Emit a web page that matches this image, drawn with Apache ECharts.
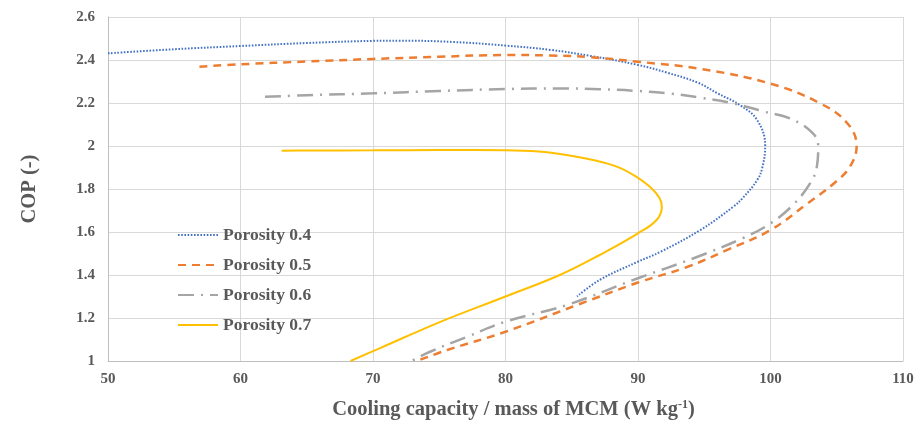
<!DOCTYPE html>
<html>
	<head>
		<meta charset="UTF-8">
		<title>COP vs cooling capacity</title>
		<script src="https://cdn.jsdelivr.net/npm/echarts@6/dist/echarts.min.js"></script>
		<style type="text/css">
			html,body{ margin:0; padding:0; background:#fff; }
		</style>
	</head>
	<body>
		<div id="chart1" style="width:917px; height:423px;"></div>
	</body>
</html>
<script type="text/javascript">
	// series names (legend)
	var seriesNames = ['Porosity 0.4', 'Porosity 0.5', 'Porosity 0.6', 'Porosity 0.7'];

	// [cooling capacity, COP], in curve order
	var porosity04 = [[50,2.431],[55,2.45],[60,2.465],[65,2.479],[70,2.489],[72,2.49],[76,2.484],[80,2.467],[83.4,2.447],[86.4,2.419],[90,2.377],[92.2,2.341],[94.5,2.295],[96,2.245],[97.7,2.19],[99,2.12],[99.6,2.0],[99.4,1.904],[99,1.842],[97.9,1.758],[97.2,1.718],[94.7,1.609],[91.7,1.508],[90,1.462],[87.1,1.377],[85.4,1.30]];
	var porosity05 = [[56.9,2.369],[60,2.38],[65,2.393],[70,2.405],[75,2.415],[80,2.423],[83.4,2.421],[86.4,2.413],[90,2.392],[94.8,2.358],[100,2.29],[103.7,2.2],[105.8,2.106],[106.5,2.0],[106,1.904],[104.8,1.827],[102.8,1.733],[100,1.609],[96.7,1.516],[93.7,1.437],[90,1.365],[85.6,1.265],[80,1.136],[75.6,1.051],[73.3,1.0]];
	var porosity06 = [[61.85,2.229],[65,2.236],[70,2.245],[75,2.256],[80,2.265],[84,2.268],[87.1,2.264],[90,2.256],[92.5,2.243],[94.7,2.225],[97.2,2.198],[99.5,2.16],[101.5,2.128],[103.2,2.059],[103.6,2.0],[103.5,1.904],[103,1.827],[101.7,1.726],[100,1.64],[97.9,1.571],[94.2,1.478],[90,1.385],[84.6,1.26],[80,1.183],[77,1.11],[74.3,1.043],[73,1.003]];
	var porosity07 = [[63.1,1.978],[65,1.979],[70,1.98],[75,1.981],[80,1.98],[82.5,1.974],[84.6,1.958],[86.6,1.935],[88.4,1.904],[89.8,1.86],[90.9,1.81],[91.6,1.76],[91.8,1.718],[91.4,1.656],[90,1.594],[87.1,1.493],[84.1,1.4],[80,1.3],[75,1.18],[70.5,1.059],[68.3,1.0]];

	var chart1 = echarts.init(document.getElementById('chart1'));

	var labelFont = {
		fontFamily: '"Liberation Serif", "Times New Roman", serif',
		fontWeight: 'bold',
		color: '#595959'
	};

	var option = {
		backgroundColor: '#fff',
		animation: false,
		grid: {
			left: 108,
			right: 14,
			top: 17,
			bottom: 62,
			containLabel: false,
			outerBoundsMode: 'none'
		},
		legend: {
			orient: 'vertical',
			left: 172,
			top: 221,
			itemWidth: 40,
			itemHeight: 14,
			itemGap: 12,
			data: seriesNames,
			itemStyle: { opacity: 0 },
			textStyle: Object.assign({ fontSize: 17.5 }, labelFont)
		},
		xAxis: {
			type: 'value',
			min: 50,
			max: 110,
			interval: 10,
			name: 'Cooling capacity / mass of MCM (W kg{sup|-1})',
			nameLocation: 'middle',
			nameGap: 38,
			nameTextStyle: Object.assign({
				fontSize: 20.5,
				padding: [0, 0, 0, 16],
				rich: {
					sup: Object.assign({ fontSize: 12, verticalAlign: 'top', padding: [0, 0, 8, 0] }, labelFont)
				}
			}, labelFont),
			axisLine: { show: true, lineStyle: { color: '#bfbfbf', width: 1 } },
			axisTick: { show: false },
			axisLabel: Object.assign({ fontSize: 15, margin: 11, showMinLabel: true, showMaxLabel: true }, labelFont),
			splitLine: { show: true, lineStyle: { color: '#d9d9d9', width: 1 } }
		},
		yAxis: {
			type: 'value',
			min: 1,
			max: 2.6,
			interval: 0.2,
			name: 'COP (-)',
			nameLocation: 'middle',
			nameGap: 68,
			nameTextStyle: Object.assign({ fontSize: 20.5 }, labelFont),
			axisLine: { show: true, lineStyle: { color: '#bfbfbf', width: 1 } },
			axisTick: { show: false },
			axisLabel: Object.assign({
				fontSize: 15,
				margin: 13,
				showMinLabel: true,
				showMaxLabel: true,
				formatter: function(v) { return String(Math.round(v * 10) / 10); }
			}, labelFont),
			splitLine: { show: true, lineStyle: { color: '#d9d9d9', width: 1 } }
		},
		series: [{
			name: seriesNames[0],
			type: 'line',
			data: porosity04,
			smooth: 0.4,
			symbol: 'none',
			itemStyle: { color: '#4472c4' },
			lineStyle: { color: '#4472c4', width: 2, type: [1.6, 1.6] }
		}, {
			name: seriesNames[1],
			type: 'line',
			data: porosity05,
			smooth: 0.4,
			symbol: 'none',
			itemStyle: { color: '#ed7d31' },
			lineStyle: { color: '#ed7d31', width: 2.5, type: [8, 6] }
		}, {
			name: seriesNames[2],
			type: 'line',
			data: porosity06,
			smooth: 0.4,
			symbol: 'none',
			itemStyle: { color: '#a5a5a5' },
			lineStyle: { color: '#a5a5a5', width: 2.5, type: [16, 7, 2, 7] }
		}, {
			name: seriesNames[3],
			type: 'line',
			data: porosity07,
			smooth: 0.4,
			symbol: 'none',
			itemStyle: { color: '#ffc000' },
			lineStyle: { color: '#ffc000', width: 2, type: 'solid' }
		}]
	};

	chart1.setOption(option);
</script>
